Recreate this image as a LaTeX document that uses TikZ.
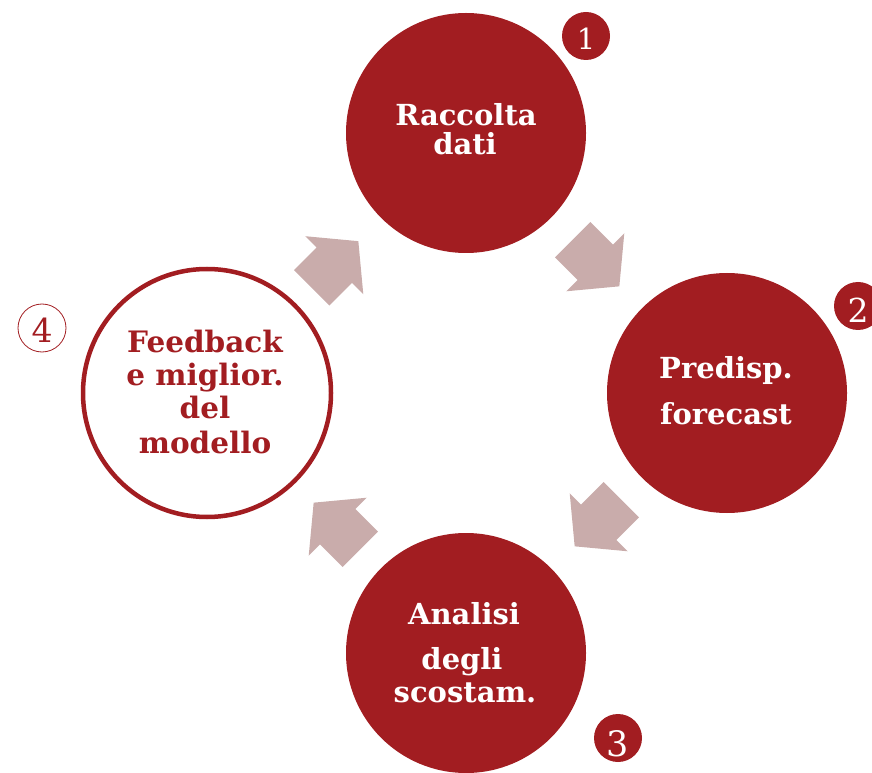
\documentclass[tikz,border=0pt]{standalone}
\usepackage{fontspec}
\newfontfamily\lblfont{DejaVu Serif}
\definecolor{mainred}{RGB}{162,29,33}
\definecolor{arrowpink}{RGB}{201,172,171}
\tikzset{
  bigcircle/.style={circle, fill=mainred, draw=none, minimum size=240pt, inner sep=0pt},
  opencircle/.style={circle, fill=white, draw=mainred, line width=4.5pt, minimum size=248pt, inner sep=0pt},
  badge/.style={circle, fill=mainred, draw=none, minimum size=48pt, inner sep=0pt},
  openbadge/.style={circle, fill=white, draw=mainred, line width=0.8pt, minimum size=48pt, inner sep=0pt},
  wlbl/.style={anchor=base, text=white, inner sep=0pt, font=\lblfont\bfseries\fontsize{29}{30}\selectfont},
  rlbl/.style={anchor=base, text=mainred, inner sep=0pt, font=\lblfont\bfseries\fontsize{29.5}{30}\selectfont},
  numw/.style={text=white, inner sep=0pt},
  numr/.style={text=mainred, inner sep=0pt},
  blockarrow/.style={fill=arrowpink, draw=none}
}
\newcommand{\blockarr}[3]{%
  \begin{scope}[shift={(#1,#2)}, rotate=#3]
    \fill[blockarrow] (-33,-25) -- (-1,-25) -- (-1,-41) -- (33,0) -- (-1,41) -- (-1,25) -- (-33,25) -- cycle;
  \end{scope}}
\begin{document}
\begin{tikzpicture}[x=1pt,y=1pt]
\useasboundingbox (0,0) rectangle (872,772);
% main circles
\node[bigcircle] (c1) at (466,639) {};
\node[bigcircle] (c2) at (727,379) {};
\node[bigcircle] (c3) at (466,119) {};
\node[opencircle] (c4) at (207,379) {};
% badges
\node[badge] (b1) at (586,736) {};
\node[badge] (b2) at (858,466) {};
\node[badge] (b3) at (618,34) {};
\node[openbadge] (b4) at (42,444) {};
\node[numw, font=\lblfont\fontsize{29}{30}\selectfont] (n1) at (586,733.5) {1};
\node[numw, font=\lblfont\fontsize{33}{34}\selectfont] (n2) at (858,461.5) {2};
\node[numw, font=\lblfont\fontsize{35}{36}\selectfont] (n3) at (618,28) {3};
\node[numr, font=\lblfont\fontsize{33}{34}\selectfont] (n4) at (42,441.5) {4};
% arrows
\blockarr{596}{509}{-45}
\blockarr{598}{249}{-135}
\blockarr{337}{246}{135}
\blockarr{335}{507.5}{45}
% labels
\node[wlbl] (t1a) at (466,646) {Raccolta};
\node[wlbl] (t1b) at (465,617) {dati};
\node[wlbl] (t2a) at (726,393) {Predisp.};
\node[wlbl] (t2b) at (726,348) {forecast};
\node[wlbl] (t3a) at (464,148) {Analisi};
\node[wlbl] (t3b) at (462,103) {degli};
\node[wlbl] (t3c) at (465,70) {scostam.};
\node[rlbl] (t4a) at (205,419) {Feedback};
\node[rlbl] (t4b) at (205,387) {e miglior.};
\node[rlbl] (t4c) at (205,354) {del};
\node[rlbl] (t4d) at (205,319) {modello};
\end{tikzpicture}
\end{document}
